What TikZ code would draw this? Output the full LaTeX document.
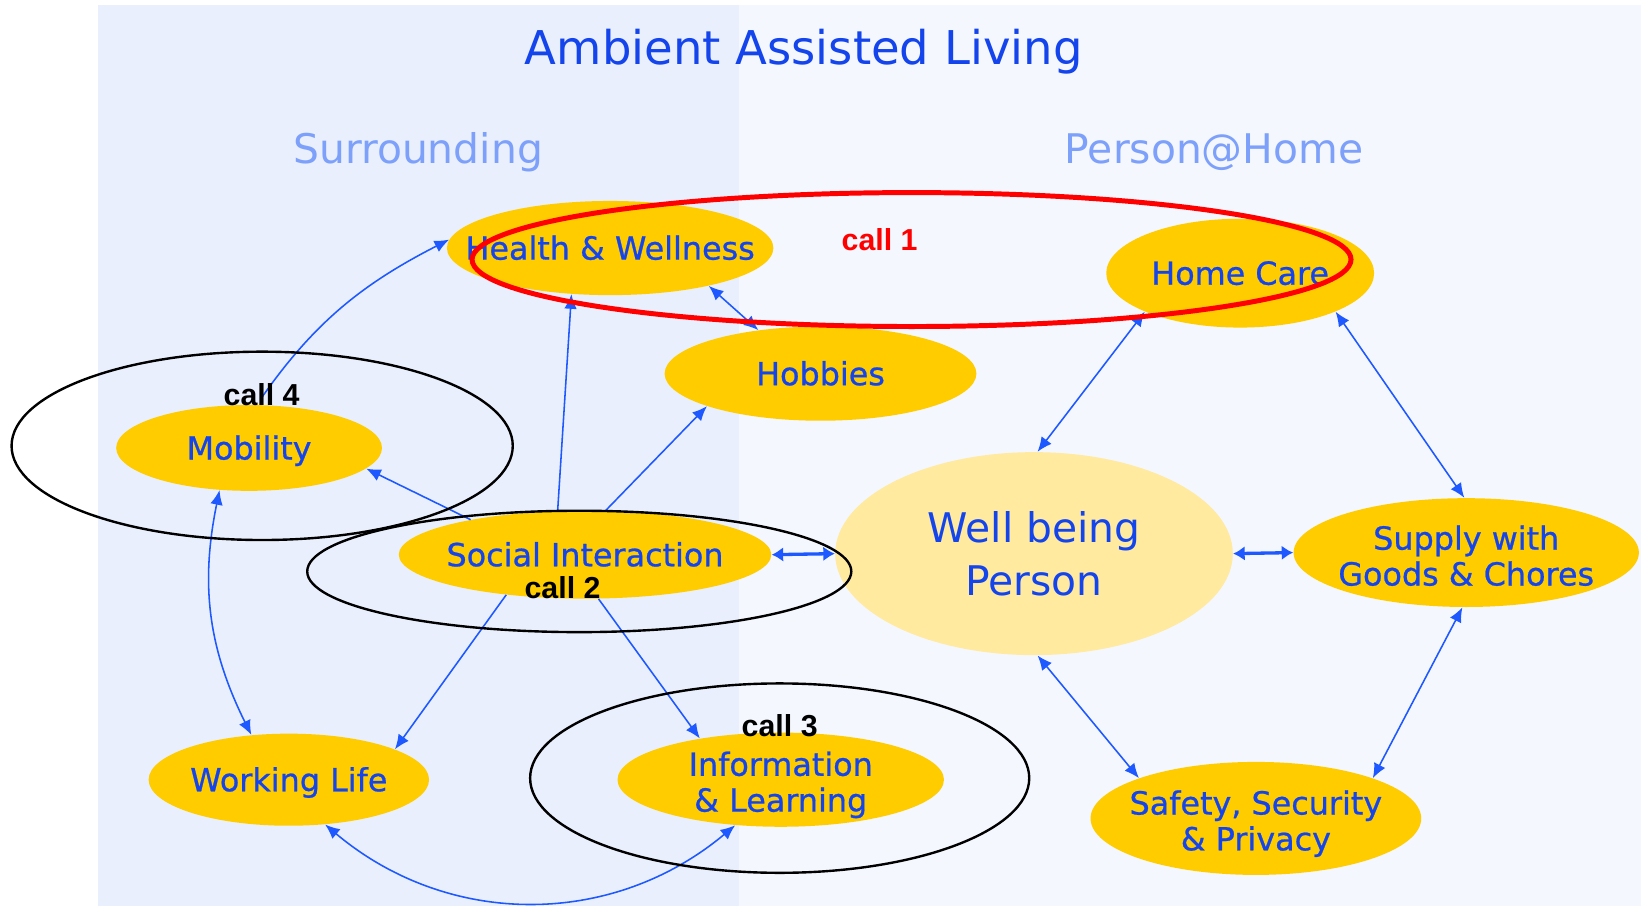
\documentclass[tikz,border=0pt]{standalone}
\usepackage{fontspec}
\setmainfont{DejaVu Sans}
\newfontfamily\nodefont[FakeBold=0.7]{DejaVu Sans}
\newfontfamily\callfont{Liberation Sans}
\usetikzlibrary{shapes.geometric,arrows.meta}
\definecolor{gold}{RGB}{255,204,0}
\definecolor{paleyellow}{RGB}{255,234,160}
\definecolor{txtblue}{RGB}{20,68,235}
\definecolor{arrblue}{RGB}{30,88,255}
\definecolor{lightlbl}{RGB}{125,160,250}
\definecolor{leftbg}{RGB}{233,239,253}
\definecolor{rightbg}{RGB}{244,247,254}
\begin{document}
\begin{tikzpicture}[x=0.02cm,y=-0.02cm,
  blob/.style={ellipse, fill=gold, inner sep=0pt},
  lbl/.style={text=txtblue, font=\nodefont\fontsize{17.3}{19.5}\selectfont, align=center, inner sep=0pt},
  oneline/.style={text height=12.6pt, text depth=0pt},
  link/.style={draw=arrblue, line width=0.85pt, -{Latex[length=0.28cm,width=0.24cm]}},
  both/.style={draw=arrblue, line width=0.85pt, {Latex[length=0.28cm,width=0.24cm]}-{Latex[length=0.28cm,width=0.24cm]}},
  heavy/.style={draw=arrblue, line width=1.8pt, {Latex[length=0.22cm,width=0.28cm]}-{Latex[length=0.22cm,width=0.28cm]}},
  ring/.style={ellipse, draw=black, line width=1.3pt, inner sep=0pt},
  calltext/.style={font=\callfont\bfseries\fontsize{16.5}{18}\selectfont, inner sep=0pt, anchor=base}
]
\useasboundingbox (0,0) rectangle (1568,866);
\fill[white] (0,0) rectangle (1568,866);
\fill[leftbg] (93.5,5) rectangle (706,866);
\fill[rightbg] (706,5) rectangle (1568,866);

% ellipses
\node[blob, minimum width=6.24cm, minimum height=1.8cm] (hw) at (583,237) {};
\node[blob, minimum width=5.12cm, minimum height=2.08cm] (hc) at (1185,261) {};
\node[blob, minimum width=5.96cm, minimum height=1.8cm] (hob) at (784,357) {};
\node[blob, minimum width=5.08cm, minimum height=1.64cm] (mob) at (238,428) {};
\node[blob, minimum width=7.12cm, minimum height=1.68cm] (si) at (559,530) {};
\node[blob, minimum width=5.36cm, minimum height=1.76cm] (wl) at (276,745) {};
\node[blob, minimum width=6.24cm, minimum height=1.8cm] (il) at (746,745) {};
\node[blob, fill=paleyellow, minimum width=7.6cm, minimum height=3.88cm] (wb) at (988,529) {};
\node[blob, minimum width=6.6cm, minimum height=2.08cm] (sup) at (1401,528) {};
\node[blob, minimum width=6.32cm, minimum height=2.16cm] (saf) at (1200,782) {};

% connectors
\draw[link] (si.163.9) -- (mob.-10);
\draw[link] (si.122) -- (hw.230);
\draw[link] (si.65) -- (hob.196.5);
\draw[both] (hob.145) -- (hw.-21);
\draw[link] (si.207) -- (wl.16.6);
\draw[link] (si.-73) -- (il.153);
\draw[both] (mob.235) to[bend right=19] (wl.130);
\draw[both] (wl.-51) to[bend right=40] (il.225.7);
\draw[link, shorten <=0.16cm] (mob.80) to[out=55,in=207] (hw.177);
\draw[heavy] (si.east) -- (wb.west);
\draw[heavy] (wb.east) -- (sup.west);
\draw[both] (hc.202.7) -- (wb.88);
\draw[both] (hc.-22) -- (sup.92);
\draw[both] (wb.272) -- (saf.161.6);
\draw[both] (sup.266) -- (saf.19.8);

% node texts
\node[lbl,oneline] (hwt) at (hw) {Health \& Wellness};
\node[lbl,oneline] (hct) at (hc) {Home Care};
\node[lbl,oneline] (hobt) at (hob) {Hobbies};
\node[lbl,oneline] (mobt) at (mob) {Mobility};
\node[lbl,oneline] (sit) at (si) {Social Interaction};
\node[lbl,oneline] (wlt) at (wl) {Working Life};
\node[lbl, yshift=-0.1cm] (ilt) at (il) {Information\\\& Learning};
\node[lbl, font=\fontsize{22.2}{29}\selectfont] (wbt) at (wb) {Well being\\Person};
\node[lbl, yshift=-0.06cm] (supt) at (sup) {Supply with\\Goods \& Chores};
\node[lbl, yshift=-0.1cm] (saft) at (saf) {Safety, Security\\\& Privacy};

% titles
\node[font=\fontsize{25.3}{30}\selectfont, text=txtblue, anchor=base, inner sep=0pt] (title) at (768,62) {Ambient Assisted Living};
\node[font=\fontsize{22.2}{26}\selectfont, text=lightlbl, anchor=base, inner sep=0pt] (surr) at (399.5,156) {Surrounding};
\node[font=\fontsize{22.2}{26}\selectfont, text=lightlbl, anchor=base, inner sep=0pt] (home) at (1160,156) {Person@Home};

% annotation rings
\node[ring, draw=red, line width=2.7pt, minimum width=16.8cm, minimum height=2.56cm] (ring1) at (871,248) {};
\node[ring, minimum width=9.58cm, minimum height=3.6cm] (ring4) at (250.5,426) {};
\node[ring, minimum width=10.4cm, minimum height=2.32cm] (ring2) at (553.5,546) {};
\node[ring, minimum width=9.54cm, minimum height=3.62cm] (ring3) at (745,743.5) {};

% call labels
\node[calltext, text=red] (call1) at (840.5,239) {call 1};
\node[calltext] (call4) at (250,387) {call 4};
\node[calltext] (call2) at (537.5,572) {call 2};
\node[calltext] (call3) at (745,704) {call 3};
\end{tikzpicture}
\end{document}
